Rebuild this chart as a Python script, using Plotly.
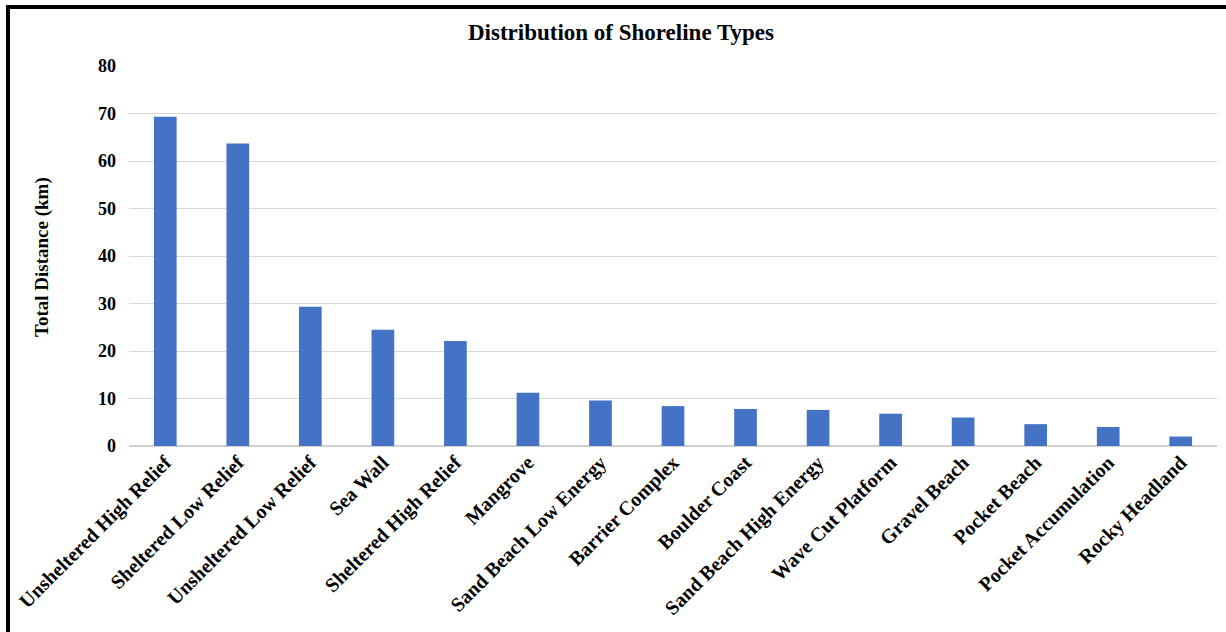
import plotly.graph_objects as go

# Shoreline classes and their total mapped length (km)
shoreline_types = [
    "Unsheltered High Relief", "Sheltered Low Relief", "Unsheltered Low Relief",
    "Sea Wall", "Sheltered High Relief", "Mangrove", "Sand Beach Low Energy",
    "Barrier Complex", "Boulder Coast", "Sand Beach High Energy",
    "Wave Cut Platform", "Gravel Beach", "Pocket Beach",
    "Pocket Accumulation", "Rocky Headland",
]
total_km = [69.3, 63.7, 29.3, 24.5, 22.1, 11.2, 9.6, 8.4, 7.8, 7.6, 6.8, 6.0, 4.6, 4.0, 2.0]
y_ticks = [0, 10, 20, 30, 40, 50, 60, 70, 80]

W, H = 1226, 632
L, R, T, B = 129, 9, 66, 186
PW, PH = W - L - R, H - T - B

def px_x(p):
    return (p - L) / PW

def px_y(p):
    return (H - B - p) / PH

FONT = "Liberation Serif"

fig = go.Figure(
    go.Bar(
        x=shoreline_types,
        y=total_km,
        marker=dict(color="#4472C4", line=dict(width=0)),
        hoverinfo="x+y",
    )
)

fig.update_layout(
    width=W,
    height=H,
    margin=dict(l=L, r=R, t=T, b=B),
    paper_bgcolor="white",
    plot_bgcolor="white",
    bargap=0.687,
    showlegend=False,
    title=dict(
        text="<b>Distribution of Shoreline Types</b>",
        font=dict(family=FONT, size=23, color="#000000"),
        xref="container", yref="container",
        x=621 / W, y=1 - 32 / H,
        xanchor="center", yanchor="middle",
    ),
    xaxis=dict(
        tickangle=-45,
        tickfont=dict(family=FONT, size=20, color="#000000", weight="bold"),
        showgrid=False,
        showline=False,
        ticks="",
        zeroline=False,
    ),
    yaxis=dict(
        range=[0, 80],
        tickvals=y_ticks,
        tickfont=dict(family=FONT, size=18, color="#000000", weight="bold"),
        showgrid=True,
        gridcolor="#d9d9d9",
        gridwidth=1.3,
        zeroline=True,
        zerolinecolor="#d0d0d0",
        zerolinewidth=1.5,
        showline=False,
        ticks="",
        ticklabelstandoff=12,
    ),
    annotations=[
        dict(
            text="<b>Total Distance (km)</b>",
            textangle=-90,
            xref="paper", yref="paper",
            x=px_x(42), y=px_y(257),
            xanchor="center", yanchor="middle",
            showarrow=False,
            font=dict(family=FONT, size=19, color="#000000"),
        )
    ],
    shapes=[
        # frame around the chart (right and bottom edges run past the page)
        dict(type="line", xref="paper", yref="paper",
             x0=px_x(8), x1=px_x(1240), y0=px_y(7), y1=px_y(7),
             line=dict(color="black", width=4)),
        dict(type="line", xref="paper", yref="paper",
             x0=px_x(8), x1=px_x(8), y0=px_y(5), y1=px_y(650),
             line=dict(color="black", width=4)),
    ],
)

fig.write_html("out.html")
